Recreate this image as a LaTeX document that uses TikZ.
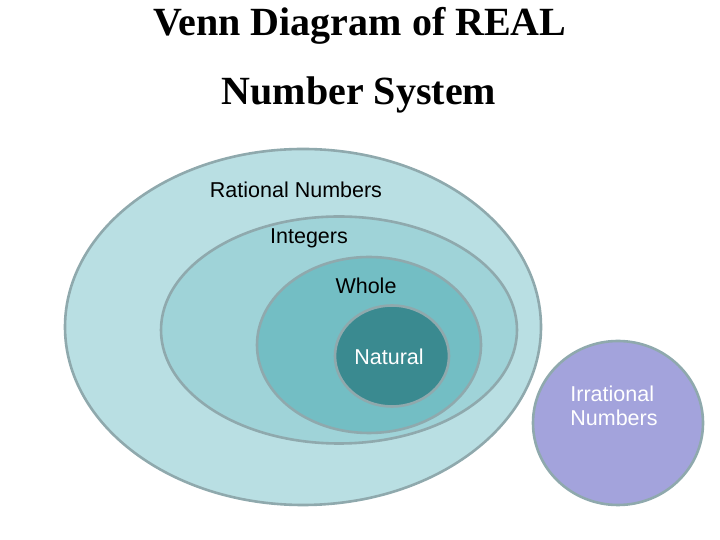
\documentclass[tikz,border=0pt]{standalone}
\usepackage{fontspec}
\setmainfont{Liberation Sans}
\newfontfamily\titlefont{Liberation Serif}
\usetikzlibrary{shapes.geometric}
\definecolor{edgec}{HTML}{8FA9AD}
\definecolor{ratc}{HTML}{B9DFE3}
\definecolor{intc}{HTML}{9FD3D8}
\definecolor{whoc}{HTML}{73BEC4}
\definecolor{natc}{HTML}{3A8A90}
\definecolor{irrc}{HTML}{A3A3DC}
\tikzset{
  setshape/.style={ellipse, draw=edgec, line width=2.6pt, inner sep=0pt},
  lbl/.style={font=\fontsize{21.5}{24}\selectfont, inner sep=0pt},
  wlbl/.style={lbl, text=white},
  ttl/.style={font=\titlefont\bfseries\fontsize{40}{48}\selectfont, inner sep=0pt, anchor=base}
}
\begin{document}
\begin{tikzpicture}[x=1pt,y=1pt]
\useasboundingbox (0,0) rectangle (720,540);
\node[ttl] (t1) at (360,504) {Venn Diagram of REAL};
\node[ttl] (t2) at (359,435) {Number System};
\node[setshape, fill=ratc, minimum width=476pt, minimum height=356pt] (rat) at (303,213) {};
\node[setshape, fill=intc, minimum width=356pt, minimum height=227pt] (int) at (339,210) {};
\node[setshape, fill=whoc, minimum width=224pt, minimum height=176pt] (who) at (369,195) {};
\node[setshape, fill=natc, minimum width=114pt, minimum height=101pt] (nat) at (392,184) {};
\node[setshape, fill=irrc, minimum width=170pt, minimum height=164pt] (irr) at (618,117) {};
\node[lbl] (lrat) at (296,350) {Rational Numbers};
\node[lbl] (lint) at (309,302) {Integers};
\node[lbl] (lwho) at (366,254) {Whole};
\node[wlbl] (lnat) at (389,183) {Natural};
\node[wlbl, align=left] (lirr) at (614,134) {Irrational\\Numbers};
\end{tikzpicture}
\end{document}
